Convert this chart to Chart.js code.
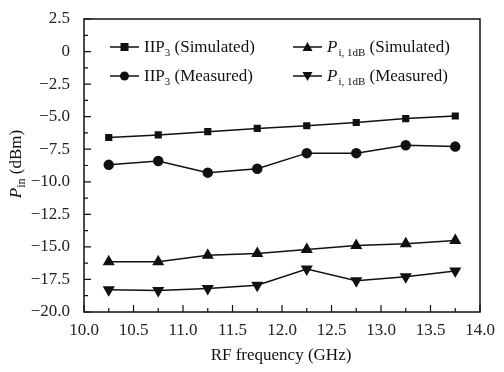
<!DOCTYPE html>
<html>
<head>
<meta charset="utf-8">
<script src="https://cdn.jsdelivr.net/npm/chart.js@4/dist/chart.umd.min.js"></script>
<style>
  html, body { margin: 0; padding: 0; background: #fff; }
  #wrap { width: 504px; height: 372px; }
</style>
</head>
<body>
<div id="wrap"><canvas id="c" width="504" height="372"></canvas></div>
<script>
// RF frequency (GHz)
const freq = [10.25, 10.75, 11.25, 11.75, 12.25, 12.75, 13.25, 13.75];
// P_in (dBm)
const iip3Sim = [-6.6, -6.4, -6.15, -5.9, -5.7, -5.45, -5.15, -4.95];
const iip3Meas = [-8.7, -8.4, -9.3, -9.0, -7.8, -7.8, -7.2, -7.3];
const p1dbSim = [-16.15, -16.15, -15.65, -15.5, -15.2, -14.9, -14.75, -14.5];
const p1dbMeas = [-18.3, -18.35, -18.2, -17.95, -16.7, -17.6, -17.3, -16.85];

const xTicks = [10.0, 10.5, 11.0, 11.5, 12.0, 12.5, 13.0, 13.5, 14.0];
const yTicks = [2.5, 0, -2.5, -5.0, -7.5, -10.0, -12.5, -15.0, -17.5, -20.0];

const serif = "'Liberation Serif', 'DejaVu Serif', serif";

function pts(ys) {
  return freq.map((f, i) => ({ x: f, y: ys[i] }));
}

function ds(label, ys, style, rot, r) {
  return {
    label: label,
    data: pts(ys),
    borderColor: '#111',
    backgroundColor: '#111',
    borderWidth: 1.5,
    pointStyle: style,
    pointRotation: rot,
    pointRadius: r,
    pointHoverRadius: r,
    tension: 0
  };
}

function fmtY(v) {
  if (v === 0) return '0';
  return (v < 0 ? '\u2212' : '') + Math.abs(v).toFixed(1);
}

// marker drawing for the legend
function marker(ctx, style, x, y) {
  ctx.beginPath();
  if (style === 'rect') {
    ctx.rect(x - 4, y - 4, 8, 8);
  } else if (style === 'circle') {
    ctx.arc(x, y, 4.5, 0, Math.PI * 2);
  } else if (style === 'up') {
    ctx.moveTo(x, y - 5); ctx.lineTo(x + 5, y + 4); ctx.lineTo(x - 5, y + 4);
  } else {
    ctx.moveTo(x, y + 5); ctx.lineTo(x + 5, y - 4); ctx.lineTo(x - 5, y - 4);
  }
  ctx.closePath();
  ctx.fill();
}

const decor = {
  id: 'decor',
  afterDraw(chart) {
    const ctx = chart.ctx;
    const a = chart.chartArea;
    const xs = chart.scales.x, ys = chart.scales.y;
    ctx.save();
    ctx.strokeStyle = '#111';
    ctx.fillStyle = '#111';
    ctx.lineWidth = 1.5;
    ctx.strokeRect(a.left, a.top, a.right - a.left, a.bottom - a.top);

    // inward ticks
    ctx.lineWidth = 1.2;
    ctx.beginPath();
    for (let v = 10; v <= 14.001; v += 0.25) {
      const px = xs.getPixelForValue(v);
      const major = Math.abs(v * 2 - Math.round(v * 2)) < 1e-6;
      ctx.moveTo(px, a.bottom);
      ctx.lineTo(px, a.bottom - (major ? 7 : 4));
    }
    for (let v = -20; v <= 2.501; v += 1.25) {
      const py = ys.getPixelForValue(v);
      const major = Math.abs(v / 2.5 - Math.round(v / 2.5)) < 1e-6;
      ctx.moveTo(a.left, py);
      ctx.lineTo(a.left + (major ? 7 : 4), py);
    }
    ctx.stroke();

    // x axis title
    ctx.font = '17px ' + serif;
    ctx.textAlign = 'center';
    ctx.textBaseline = 'alphabetic';
    ctx.fillText('RF frequency (GHz)', 281, 360);

    // y axis title, rotated
    ctx.save();
    ctx.translate(21, 164);
    ctx.rotate(-Math.PI / 2);
    ctx.textAlign = 'left';
    const partP = 'P', partSub = 'in', partRest = ' (dBm)';
    ctx.font = 'italic 17px ' + serif;
    const wP = ctx.measureText(partP).width;
    ctx.font = '12px ' + serif;
    const wS = ctx.measureText(partSub).width;
    ctx.font = '17px ' + serif;
    const wR = ctx.measureText(partRest).width;
    let x0 = -(wP + wS + wR) / 2;
    ctx.font = 'italic 17px ' + serif;
    ctx.fillText(partP, x0, 0);
    ctx.font = '12px ' + serif;
    ctx.fillText(partSub, x0 + wP, 4);
    ctx.font = '17px ' + serif;
    ctx.fillText(partRest, x0 + wP + wS, 0);
    ctx.restore();

    // legend
    const rows = [
      { x: 110, y: 47, style: 'rect', kind: 'iip', text: ' (Simulated)' },
      { x: 110, y: 76, style: 'circle', kind: 'iip', text: ' (Measured)' },
      { x: 293, y: 47, style: 'up', kind: 'p', text: ' (Simulated)' },
      { x: 293, y: 76, style: 'down', kind: 'p', text: ' (Measured)' }
    ];
    rows.forEach(r => {
      ctx.lineWidth = 1.5;
      ctx.beginPath();
      ctx.moveTo(r.x, r.y);
      ctx.lineTo(r.x + 29, r.y);
      ctx.stroke();
      marker(ctx, r.style, r.x + 14.5, r.y);
      let tx = r.x + 34;
      const by = r.y + 5;
      ctx.textAlign = 'left';
      if (r.kind === 'iip') {
        ctx.font = '17px ' + serif;
        ctx.fillText('IIP', tx, by);
        tx += ctx.measureText('IIP').width;
        ctx.font = '11px ' + serif;
        ctx.fillText('3', tx, by + 4);
        tx += ctx.measureText('3').width;
      } else {
        ctx.font = 'italic 17px ' + serif;
        ctx.fillText('P', tx, by);
        tx += ctx.measureText('P').width + 1;
        ctx.font = '11px ' + serif;
        ctx.fillText('i, 1dB', tx, by + 4);
        tx += ctx.measureText('i, 1dB').width;
      }
      ctx.font = '17px ' + serif;
      ctx.fillText(r.text, tx, by);
    });
    ctx.restore();
  }
};

new Chart(document.getElementById('c'), {
  type: 'line',
  data: {
    datasets: [
      ds('IIP3 (Simulated)', iip3Sim, 'rect', 0, 4),
      ds('IIP3 (Measured)', iip3Meas, 'circle', 0, 4.5),
      ds('P i,1dB (Simulated)', p1dbSim, 'triangle', 0, 5.5),
      ds('P i,1dB (Measured)', p1dbMeas, 'triangle', 180, 5.5)
    ]
  },
  options: {
    responsive: false,
    animation: false,
    layout: { padding: { left: 0, top: 19, right: 24, bottom: 0 } },
    plugins: { legend: { display: false }, tooltip: { enabled: false } },
    scales: {
      x: {
        type: 'linear',
        min: 10, max: 14,
        grid: { display: false },
        border: { display: false },
        afterBuildTicks: s => { s.ticks = xTicks.map(v => ({ value: v })); },
        afterFit: s => { s.height = 60; s.paddingLeft = 0; s.paddingRight = 0; },
        ticks: {
          color: '#222',
          padding: 0,
          maxRotation: 0,
          autoSkip: false,
          font: { family: serif, size: 17 },
          callback: v => v.toFixed(1)
        }
      },
      y: {
        min: -20, max: 2.5,
        grid: { display: false },
        border: { display: false },
        afterBuildTicks: s => { s.ticks = yTicks.map(v => ({ value: v })); },
        afterFit: s => { s.width = 84; s.paddingTop = 0; s.paddingBottom = 0; },
        ticks: {
          color: '#222',
          padding: 6,
          autoSkip: false,
          font: { family: serif, size: 17 },
          callback: v => fmtY(v)
        }
      }
    }
  },
  plugins: [decor]
});
</script>
</body>
</html>
